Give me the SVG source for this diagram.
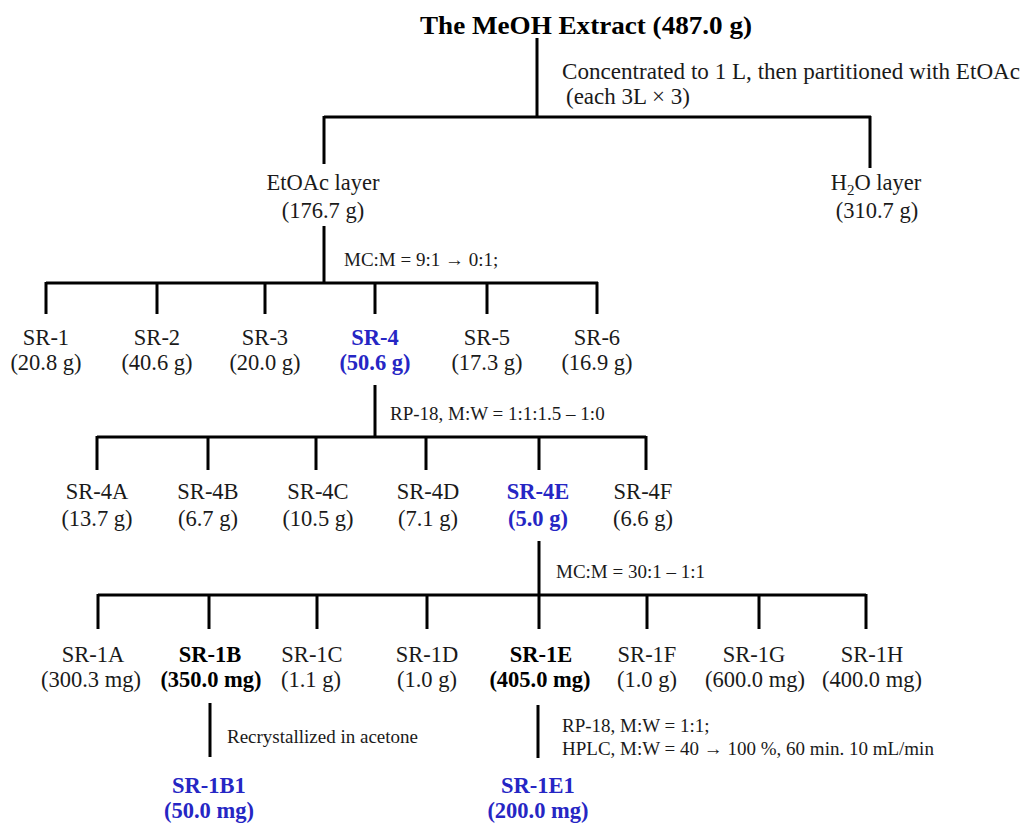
<svg xmlns="http://www.w3.org/2000/svg" width="1025" height="823" viewBox="0 0 1025 823">
<style>
text{font-family:"Liberation Serif","Times New Roman",serif;fill:#1a1a1a}
.lb{font-size:22.5px;text-anchor:middle}
.t{font-size:26px;font-weight:bold;fill:#000}
.an{font-size:19px}
.an2{font-size:23px}
.b{font-weight:bold;fill:#000}
.blue{font-weight:bold;fill:#2626c4}
.ln{stroke:#000;stroke-width:3;fill:none}
</style>
<rect width="1025" height="823" fill="#fff"/>
<g id="connectors" class="ln">
<path d="M537,38V117M324,117H871M324,116V164M870,116V168"/>
<path d="M324,226V283M46,283H598M46,282V314M157,282V314M265,282V314M375,282V314M487,282V314M597,282V314"/>
<path d="M375,385V437M97,437H646M97,436V470M208,436V470M316,436V470M426,436V470M539,436V470M646,436V470"/>
<path d="M539,541V595M98,595H866M98,594V629M209,594V629M317,594V629M427,594V629M539,594V629M647,594V629M759,594V629M866,594V629"/>
<path d="M210,703V757M538,705V758"/>
</g>
<g id="extract"><text class="t" x="420" y="34" textLength="332" lengthAdjust="spacingAndGlyphs">The MeOH Extract (487.0 g)</text></g>
<g id="step1"><text class="an2" x="562" y="79" textLength="458" lengthAdjust="spacingAndGlyphs">Concentrated to 1 L, then partitioned with EtOAc</text><text class="an2" x="566" y="104">(each 3L × 3)</text></g>
<g id="etoac"><text class="lb" x="323" y="190">EtOAc layer</text><text class="lb" x="323" y="218">(176.7 g)</text></g>
<g id="h2o"><text class="lb" x="876" y="190">H<tspan font-size="15" dy="5">2</tspan><tspan dy="-5">O layer</tspan></text><text class="lb" x="877" y="218">(310.7 g)</text></g>
<g id="step2"><text class="an" x="344" y="266">MC:M = 9:1 → 0:1;</text></g>
<g id="sr1"><text class="lb" x="46" y="345">SR-1</text><text class="lb" x="46" y="370">(20.8 g)</text></g>
<g id="sr2"><text class="lb" x="157" y="345">SR-2</text><text class="lb" x="157" y="370">(40.6 g)</text></g>
<g id="sr3"><text class="lb" x="265" y="345">SR-3</text><text class="lb" x="265" y="370">(20.0 g)</text></g>
<g id="sr4"><text class="lb blue" x="375" y="345">SR-4</text><text class="lb blue" x="375" y="370">(50.6 g)</text></g>
<g id="sr5"><text class="lb" x="487" y="345">SR-5</text><text class="lb" x="487" y="370">(17.3 g)</text></g>
<g id="sr6"><text class="lb" x="597" y="345">SR-6</text><text class="lb" x="597" y="370">(16.9 g)</text></g>
<g id="step3"><text class="an" x="390" y="420">RP-18, M:W = 1:1:1.5 – 1:0</text></g>
<g id="sr4a"><text class="lb" x="97" y="499">SR-4A</text><text class="lb" x="97" y="526">(13.7 g)</text></g>
<g id="sr4b"><text class="lb" x="208" y="499">SR-4B</text><text class="lb" x="208" y="526">(6.7 g)</text></g>
<g id="sr4c"><text class="lb" x="318" y="499">SR-4C</text><text class="lb" x="318" y="526">(10.5 g)</text></g>
<g id="sr4d"><text class="lb" x="428" y="499">SR-4D</text><text class="lb" x="428" y="526">(7.1 g)</text></g>
<g id="sr4e"><text class="lb blue" x="538" y="499">SR-4E</text><text class="lb blue" x="538" y="526">(5.0 g)</text></g>
<g id="sr4f"><text class="lb" x="643" y="499">SR-4F</text><text class="lb" x="643" y="526">(6.6 g)</text></g>
<g id="step4"><text class="an" x="556" y="578">MC:M = 30:1 – 1:1</text></g>
<g id="sr1a"><text class="lb" x="93" y="662">SR-1A</text><text class="lb" x="91" y="687">(300.3 mg)</text></g>
<g id="sr1b"><text class="lb b" x="210" y="662">SR-1B</text><text class="lb b" x="211" y="687">(350.0 mg)</text></g>
<g id="sr1c"><text class="lb" x="312" y="662">SR-1C</text><text class="lb" x="311" y="687">(1.1 g)</text></g>
<g id="sr1d"><text class="lb" x="427" y="662">SR-1D</text><text class="lb" x="427" y="687">(1.0 g)</text></g>
<g id="sr1e"><text class="lb b" x="541" y="662">SR-1E</text><text class="lb b" x="540" y="687">(405.0 mg)</text></g>
<g id="sr1f"><text class="lb" x="647" y="662">SR-1F</text><text class="lb" x="647" y="687">(1.0 g)</text></g>
<g id="sr1g"><text class="lb" x="754" y="662">SR-1G</text><text class="lb" x="755" y="687">(600.0 mg)</text></g>
<g id="sr1h"><text class="lb" x="872" y="662">SR-1H</text><text class="lb" x="872" y="687">(400.0 mg)</text></g>
<g id="step5"><text class="an" x="227" y="743">Recrystallized in acetone</text></g>
<g id="step6"><text class="an" x="562" y="732">RP-18, M:W = 1:1;</text><text class="an" x="562" y="755">HPLC, M:W = 40 → 100 %, 60 min. 10 mL/min</text></g>
<g id="sr1b1"><text class="lb blue" x="209" y="793">SR-1B1</text><text class="lb blue" x="209" y="818">(50.0 mg)</text></g>
<g id="sr1e1"><text class="lb blue" x="538" y="793">SR-1E1</text><text class="lb blue" x="538" y="818">(200.0 mg)</text></g>
</svg>
